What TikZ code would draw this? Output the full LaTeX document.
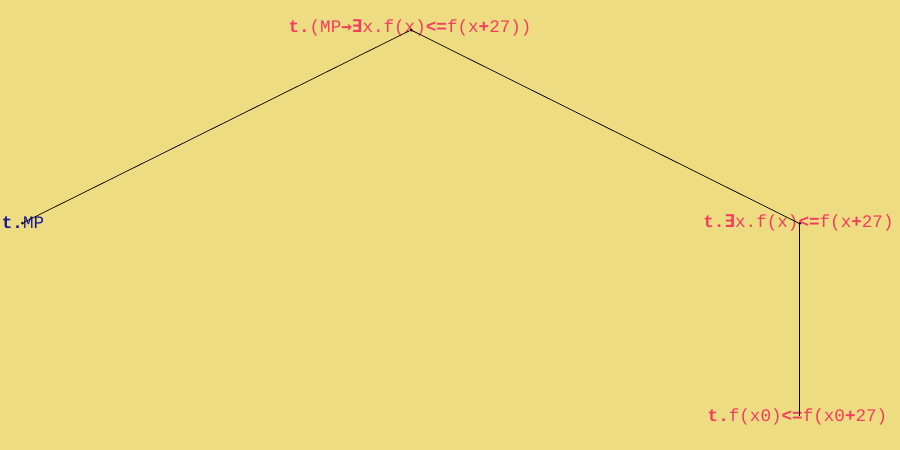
\documentclass[tikz,border=0pt]{standalone}
\usepackage{fontspec}
\setmonofont{Liberation Mono}
\newfontfamily\symfont{DejaVu Sans Mono}
\definecolor{bgc}{RGB}{238,220,130}
\definecolor{redt}{RGB}{245,60,95}
\definecolor{bluet}{RGB}{25,25,150}
\newcommand{\bsym}[1]{{\symfont\bfseries #1}}
\begin{document}
\begin{tikzpicture}[x=1pt,y=-1pt,
  lbl/.style={inner sep=0pt,font=\fontsize{17.6}{20}\ttfamily},
  dot/.style={circle,fill=black,inner sep=0pt,minimum size=3pt},
  edge/.style={draw=black,line width=0.7pt}]
\fill[bgc] (0,0) rectangle (900,450);
\useasboundingbox (0,0) rectangle (900,450);
\node[lbl,text=redt] (top) at (410,28) {\textbf{t.}(MP\bsym{→∃}x.f(x)\textbf{<=}f(x\textbf{+}27))};
\node[lbl,text=bluet] (left) at (23,223) {\textbf{t.}MP};
\node[lbl,text=redt] (right) at (798.5,223) {\textbf{t.}\bsym{∃}x.f(x)\textbf{<=}f(x\textbf{+}27)};
\node[lbl,text=redt] (bottom) at (797.5,417) {\textbf{t.}f(x0)\textbf{<=}f(x0\textbf{+}27)};
\node[dot] (dtop) at (411,30) {};
\node[dot] (dleft) at (22.5,223) {};
\node[dot] (dright) at (799.5,223.5) {};
\coordinate (dbottom) at (799.5,416);
\draw[edge] (dtop) -- (dleft);
\draw[edge] (dtop) -- (dright);
\draw[edge] (dright) -- (dbottom);
\end{tikzpicture}
\end{document}
